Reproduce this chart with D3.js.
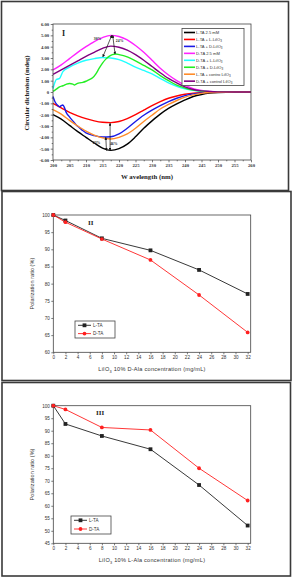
<!DOCTYPE html>
<html><head><meta charset="utf-8">
<script src="https://cdn.jsdelivr.net/npm/d3@7"></script>
<style>body{margin:0;background:#fff}svg{display:block}</style>
</head><body><svg id="c" width="294" height="578"></svg>
<script>
// ---------- Panel I data (wavelength nm, CD mdeg) ----------
const cdLegend = ["L-TA 2.5 mM","L-TA + L-LiIO|3","L-TA + D-LiIO|3","D-TA 2.5 mM","D-TA + L-LiIO|3","D-TA + D-LiIO|3","L-TA + contro LiIO|3","D-TA + control LiIO|3"];
const cdColors = ["#000000","#ff0000","#1a1ae6","#ff22ff","#22ffff","#22ee22","#ff8c2a","#800080"];
const ltaPure = [[200,-2.0],[202.5,-2.4],[205,-2.95],[207.5,-3.5],[210,-4.0],[212.5,-4.5],[215,-4.95],[217.5,-5.15],[220,-5.0],[222.5,-4.6],[225,-3.95],[227.5,-3.2],[230,-2.55],[232.5,-1.95],[235,-1.45],[237.5,-1.05],[240,-0.7],[242.5,-0.4],[245,-0.22],[247.5,-0.1],[250,-0.04],[255,0],[260,0]];
const ltaL = [[200,-1.0],[202.5,-1.4],[205,-1.8],[207.5,-2.1],[210,-2.35],[212.5,-2.55],[215,-2.67],[217.5,-2.7],[220,-2.6],[222.5,-2.35],[225,-2.0],[227.5,-1.6],[230,-1.2],[232.5,-0.85],[235,-0.55],[237.5,-0.35],[240,-0.2],[242.5,-0.1],[245,-0.05],[247.5,-0.02],[250,0],[255,0],[260,0]];
const ltaD = [[200,-0.4],[200.5,-0.8],[201,-1.05],[201.5,-1.2],[202,-1.3],[202.5,-1.2],[203,-1.15],[203.5,-1.4],[204,-1.8],[205,-2.2],[206,-2.55],[207,-2.9],[208,-3.15],[209,-3.4],[210,-3.6],[212.5,-3.85],[215,-3.97],[217.5,-3.95],[220,-3.7],[222.5,-3.2],[225,-2.6],[227.5,-2.05],[230,-1.6],[232.5,-1.2],[235,-0.85],[237.5,-0.55],[240,-0.32],[242.5,-0.17],[245,-0.08],[247.5,-0.03],[250,0],[255,0],[260,0]];
const dtaPure = [[200,1.95],[202.5,2.4],[205,2.95],[207.5,3.5],[210,4.0],[212.5,4.45],[215,4.8],[217.5,5.0],[220,4.9],[222.5,4.6],[225,4.1],[227.5,3.5],[230,2.8],[232.5,2.1],[235,1.5],[237.5,1.0],[240,0.6],[242.5,0.3],[245,0.13],[247.5,0.05],[250,0.02],[255,0],[260,0]];
const dtaL = [[200,0.3],[200.5,0.8],[201,1.1],[202,1.2],[203,1.8],[205,2.2],[207.5,2.55],[210,2.8],[212.5,2.95],[215,3.05],[217.5,3.0],[220,2.85],[222.5,2.55],[225,2.2],[227.5,1.9],[230,1.6],[232.5,1.2],[235,0.8],[237.5,0.5],[240,0.28],[242.5,0.15],[245,0.07],[247.5,0.02],[250,0],[255,0],[260,0]];
const dtaD = [[200,0.05],[201,0.25],[202,0.45],[203,0.55],[204,0.68],[205,0.75],[206,0.7],[206.5,0.62],[207,0.7],[208,0.8],[209,0.85],[210,0.95],[211,1.1],[212,1.25],[213,1.6],[214,2.1],[215,2.55],[216,2.9],[217,3.15],[218,3.3],[219,3.35],[220,3.3],[222.5,3.1],[225,2.75],[227.5,2.35],[230,1.95],[232.5,1.45],[235,1.0],[237.5,0.6],[240,0.35],[242.5,0.17],[245,0.08],[247.5,0.03],[250,0],[255,0],[260,0]];
const ltaCtrl = [[200,-1.55],[202.5,-1.95],[205,-2.5],[207.5,-3.0],[210,-3.45],[212.5,-3.8],[215,-4.05],[217.5,-4.15],[220,-4.0],[222.5,-3.7],[225,-3.2],[227.5,-2.6],[230,-2.05],[232.5,-1.5],[235,-1.1],[237.5,-0.75],[240,-0.45],[242.5,-0.25],[245,-0.12],[247.5,-0.05],[250,-0.02],[255,0],[260,0]];
const dtaCtrl = [[200,1.55],[202.5,1.95],[205,2.35],[207.5,2.75],[210,3.15],[212.5,3.5],[215,3.85],[217.5,4.05],[220,3.95],[222.5,3.7],[225,3.3],[227.5,2.8],[230,2.25],[232.5,1.7],[235,1.2],[237.5,0.8],[240,0.45],[242.5,0.22],[245,0.1],[247.5,0.04],[250,0.01],[255,0],[260,0]];
const cdSeries = [ltaPure, ltaL, ltaD, dtaPure, dtaL, dtaD, ltaCtrl, dtaCtrl];
const cdXTicks = [200,205,210,215,220,225,230,235,240,245,250,255,260];
const cdYTicks = [-6,-5,-4,-3,-2,-1,0,1,2,3,4,5,6];
// annotation arrows: [x1,y1,x2,y2] in data units, labels
const cdArrows = [[217.8,5.0,215.1,3.1],[218.1,5.0,218.8,3.35],[217.3,-5.15,217.3,-2.75],[216.2,-5.15,216.0,-4.0]];
const cdArrowLabels = [[213.5,4.55,"30%"],[220.2,4.45,"24%"],[213.2,-4.6,"23%"],[218.4,-4.65,"46%"]];

// ---------- Panels II & III data ----------
const concentrations = [0,2,8,16,24,32];
const concTicks = [0,2,4,6,8,10,12,14,16,18,20,22,24,26,28,30,32];
const p2LTA = [100,98.4,93.2,89.7,84.0,77.0];
const p2DTA = [100,97.9,93.0,86.9,76.7,65.8];
const p3LTA = [100,92.7,87.9,82.6,68.3,52.1];
const p3DTA = [100,98.5,91.3,90.3,75.0,62.1];
const p2YTicks = [60,65,70,75,80,85,90,95,100];
const p3YTicks = [45,50,55,60,65,70,75,80,85,90,95,100];
const polLegend = ["L-TA","D-TA"];

const svg = d3.select("#c");
const SERIF = "'Liberation Serif','Times New Roman',serif";
const SANS = "'Liberation Sans',Arial,sans-serif";

// panel frames
[[1.5,1.5,287,189],[2,191.5,289,189],[2,382.5,288.5,193.5]].forEach(r=>{
  svg.append("rect").attr("x",r[0]).attr("y",r[1]).attr("width",r[2]).attr("height",r[3])
    .attr("fill","none").attr("stroke","#3a3a3a").attr("stroke-width",1.6);
});

function addSub(textSel, label, subSize){
  const parts = label.split("|");
  textSel.append("tspan").text(parts[0]);
  if(parts[1]) textSel.append("tspan").attr("font-size",subSize).attr("dy",1.2).text(parts[1]);
}

// ---------- Panel I ----------
(function(){
  const x = d3.scaleLinear().domain([200,260]).range([53,251]);
  const y = d3.scaleLinear().domain([-6,6]).range([160,24]);
  const g = svg.append("g");
  // minor ticks
  g.append("g").attr("transform","translate(0,160)")
    .call(d3.axisBottom(x).tickValues(d3.range(202.5,260,5)).tickSize(1.3).tickFormat(""))
    .call(s=>s.select(".domain").remove());
  g.append("g").attr("transform","translate(53,0)")
    .call(d3.axisLeft(y).tickValues(d3.range(-5.5,6,1)).tickSize(1.3).tickFormat(""))
    .call(s=>s.select(".domain").remove());
  const xa = g.append("g").attr("transform","translate(0,160)")
    .call(d3.axisBottom(x).tickValues(cdXTicks).tickSize(2.3).tickSizeOuter(0).tickPadding(1.5).tickFormat(d3.format("d")));
  const ya = g.append("g").attr("transform","translate(53,0)")
    .call(d3.axisLeft(y).tickValues(cdYTicks).tickSize(2.3).tickSizeOuter(0).tickPadding(1.5).tickFormat(d=>d===0?"0":d.toFixed(2)));
  [xa,ya].forEach(a=>{
    a.selectAll("text").attr("font-family",SERIF).attr("font-weight","bold").attr("font-size",4.7).attr("fill","#333");
    a.selectAll("line").attr("stroke","#444").attr("stroke-width",0.7);
    a.select(".domain").remove();
  });
  g.selectAll(".tick line").attr("stroke","#444").attr("stroke-width",0.7);
  const line = d3.line().x(d=>x(d[0])).y(d=>y(d[1])).curve(d3.curveMonotoneX);
  cdSeries.forEach((s,i)=>{
    g.append("path").datum(s).attr("d",line).attr("fill","none")
      .attr("stroke",cdColors[i]).attr("stroke-width",1.4).attr("stroke-linejoin","round");
  });
  g.append("rect").attr("x",53).attr("y",24).attr("width",198).attr("height",136)
    .attr("fill","none").attr("stroke","#444").attr("stroke-width",0.8);
  // arrows
  const defs = svg.append("defs");
  defs.append("marker").attr("id","ah").attr("viewBox","0 0 10 10").attr("refX",9).attr("refY",5)
    .attr("markerWidth",4).attr("markerHeight",4).attr("orient","auto-start-reverse")
    .append("path").attr("d","M0,0L10,5L0,10z").attr("fill","#111");
  cdArrows.forEach(a=>{
    g.append("line").attr("x1",x(a[0])).attr("y1",y(a[1])).attr("x2",x(a[2])).attr("y2",y(a[3]))
      .attr("stroke","#111").attr("stroke-width",0.7)
      .attr("marker-start","url(#ah)").attr("marker-end","url(#ah)");
  });
  cdArrowLabels.forEach(l=>{
    g.append("text").attr("x",x(l[0])).attr("y",y(l[1])).attr("text-anchor","middle")
      .attr("font-family",SERIF).attr("font-weight","bold").attr("font-size",3.8).attr("fill","#222").text(l[2]);
  });
  g.append("text").attr("x",62).attr("y",35.5).attr("font-family",SERIF).attr("font-weight","bold")
    .attr("font-size",8).attr("fill","#222").text("I");
  // legend
  g.append("rect").attr("x",182).attr("y",28.5).attr("width",62).attr("height",57)
    .attr("fill","#fff").attr("stroke","#444").attr("stroke-width",0.8);
  cdLegend.forEach((t,i)=>{
    const yy = 32.5 + i*6.95;
    g.append("line").attr("x1",184).attr("x2",195).attr("y1",yy).attr("y2",yy)
      .attr("stroke",cdColors[i]).attr("stroke-width",1.6);
    const tx = g.append("text").attr("x",196).attr("y",yy+1.5).attr("font-family",SANS)
      .attr("font-size",4.1).attr("fill","#333");
    addSub(tx,t,3);
  });
  g.append("text").attr("transform","translate(29,93) rotate(-90)").attr("text-anchor","middle")
    .attr("font-family",SERIF).attr("font-weight","bold").attr("font-size",6.6).attr("fill","#222")
    .text("Circular dichroism (mdeg)");
  g.append("text").attr("x",147).attr("y",179).attr("text-anchor","middle")
    .attr("font-family",SERIF).attr("font-weight","bold").attr("font-size",6.8).attr("fill","#222")
    .text("W avelength (nm)");
})();

// ---------- Panels II & III ----------
function polPanel(cfg){
  const x = d3.scaleLinear().domain([0,32.5]).range([53.3,250.7]);
  const y = d3.scaleLinear().domain(cfg.yDomain).range([cfg.bottom,cfg.top]);
  const g = svg.append("g");
  const xa = g.append("g").attr("transform",`translate(0,${cfg.bottom})`)
    .call(d3.axisBottom(x).tickValues(concTicks).tickSize(2).tickSizeOuter(0).tickPadding(1.5));
  const ya = g.append("g").attr("transform","translate(53.3,0)")
    .call(d3.axisLeft(y).tickValues(cfg.yTicks).tickSize(2).tickSizeOuter(0).tickPadding(1.5));
  [xa,ya].forEach(a=>{
    a.selectAll("text").attr("font-family",SANS).attr("font-size",4.6).attr("fill","#333");
    a.selectAll("line").attr("stroke","#444").attr("stroke-width",0.7);
    a.select(".domain").remove();
  });
  g.append("rect").attr("x",53.3).attr("y",cfg.top).attr("width",197.4).attr("height",cfg.bottom-cfg.top)
    .attr("fill","none").attr("stroke","#444").attr("stroke-width",0.8);
  const line = d3.line().x((d,i)=>x(concentrations[i])).y(d=>y(d));
  const cols = ["#222","#ff2020"];
  [cfg.lta,cfg.dta].forEach((vals,k)=>{
    g.append("path").datum(vals).attr("d",line).attr("fill","none").attr("stroke",cols[k]).attr("stroke-width",0.9);
  });
  [cfg.lta,cfg.dta].forEach((vals,k)=>{
    vals.forEach((v,i)=>{
      if(k===0) g.append("rect").attr("x",x(concentrations[i])-1.9).attr("y",y(v)-1.9).attr("width",3.8).attr("height",3.8).attr("fill",cols[0]);
      else g.append("circle").attr("cx",x(concentrations[i])).attr("cy",y(v)).attr("r",1.9).attr("fill",cols[1]);
    });
  });
  g.append("text").attr("x",cfg.labelX).attr("y",cfg.top+9.5).attr("font-family",SERIF).attr("font-weight","bold")
    .attr("font-size",7).attr("fill","#222").text(cfg.label);
  // legend
  const L = cfg.legend;
  g.append("rect").attr("x",L[0]).attr("y",L[1]).attr("width",40).attr("height",L[2])
    .attr("fill","#fff").attr("stroke","#444").attr("stroke-width",0.8);
  polLegend.forEach((t,k)=>{
    const yy = L[1] + 4.3 + k*L[3];
    g.append("line").attr("x1",L[0]+3).attr("x2",L[0]+16).attr("y1",yy).attr("y2",yy).attr("stroke",cols[k]).attr("stroke-width",0.9);
    if(k===0) g.append("rect").attr("x",L[0]+9.5-1.9).attr("y",yy-1.9).attr("width",3.8).attr("height",3.8).attr("fill",cols[0]);
    else g.append("circle").attr("cx",L[0]+9.5).attr("cy",yy).attr("r",1.9).attr("fill",cols[1]);
    g.append("text").attr("x",L[0]+18).attr("y",yy+1.6).attr("font-family",SANS).attr("font-size",4.6).attr("fill","#333").text(t);
  });
  const yc = (cfg.top+cfg.bottom)/2;
  g.append("text").attr("transform",`translate(34,${yc}) rotate(-90)`).attr("text-anchor","middle")
    .attr("font-family",SANS).attr("font-size",5.6).attr("fill","#333").text("Polarization ratio (%)");
  const xt = g.append("text").attr("x",152).attr("y",cfg.bottom+19).attr("text-anchor","middle")
    .attr("font-family",SANS).attr("font-size",5.6).attr("letter-spacing",0.25).attr("fill","#333");
  xt.append("tspan").text("LiIO");
  xt.append("tspan").attr("font-size",3.8).attr("dy",1.2).text("3");
  xt.append("tspan").attr("dy",-1.2).text(cfg.xTitle);
}
polPanel({top:215,bottom:352.3,yDomain:[60,100],yTicks:p2YTicks,lta:p2LTA,dta:p2DTA,label:"II",labelX:88,
  legend:[75,321,17,8.3],xTitle:" 10% D-Ala concentration (mg/mL)"});
polPanel({top:405.7,bottom:543.3,yDomain:[45,100],yTicks:p3YTicks,lta:p3LTA,dta:p3DTA,label:"III",labelX:96,
  legend:[71,516,18,8.7],xTitle:" 10% L-Ala concentration (mg/mL)"});
</script></body></html>
